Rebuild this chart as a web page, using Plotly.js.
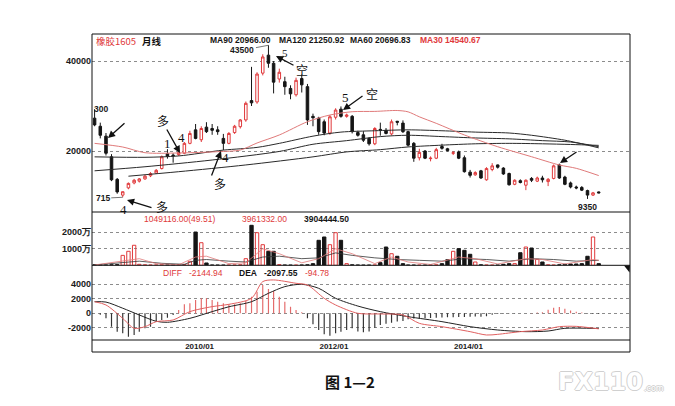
<!DOCTYPE html>
<html>
<head>
<meta charset="utf-8">
<script src="https://cdn.plot.ly/plotly-3.0.1.min.js"></script>
<style>html,body{margin:0;padding:0;background:#fff;}#chart{width:675px;height:406px;}</style>
</head>
<body>
<div id="chart"></div>
<script>
// ---------- data (monthly, rubber 1605) ----------
const months = ['2008-07','2008-08','2008-09','2008-10','2008-11','2008-12',
'2009-01','2009-02','2009-03','2009-04','2009-05','2009-06','2009-07','2009-08','2009-09','2009-10','2009-11','2009-12',
'2010-01','2010-02','2010-03','2010-04','2010-05','2010-06','2010-07','2010-08','2010-09','2010-10','2010-11','2010-12',
'2011-01','2011-02','2011-03','2011-04','2011-05','2011-06','2011-07','2011-08','2011-09','2011-10','2011-11','2011-12',
'2012-01','2012-02','2012-03','2012-04','2012-05','2012-06','2012-07','2012-08','2012-09','2012-10','2012-11','2012-12',
'2013-01','2013-02','2013-03','2013-04','2013-05','2013-06','2013-07','2013-08','2013-09','2013-10','2013-11','2013-12',
'2014-01','2014-02','2014-03','2014-04','2014-05','2014-06','2014-07','2014-08','2014-09','2014-10','2014-11','2014-12',
'2015-01','2015-02','2015-03','2015-04','2015-05','2015-06','2015-07','2015-08','2015-09','2015-10','2015-11','2015-12',
'2016-01'];

const open  = [27300,25500,23300,18700,13700,10200,11800,12900,13300,13800,
14500,15100,16100,19400,19100,19200,19500,21700,24700,22500,
25300,25000,24700,22800,21700,24100,25400,26900,31200,30900,
37300,41300,39500,36000,35400,33900,32500,36100,34300,27700,
27300,26500,24000,27500,29300,27700,27700,24100,23600,22800,
21600,24800,24600,23800,26600,26200,24300,21700,18500,20000,
18300,18400,21000,20500,19500,19800,18500,15300,14700,15600,
13600,15900,16900,16200,15000,12600,13400,12400,13900,13300,
14000,13200,13900,16900,14200,12900,12000,11900,11200,10200,
10900];
const high  = [29300,26300,24000,19300,14000,11000,13000,13800,14000,14700,
15300,16000,19000,20400,19500,20000,22000,24500,26000,25500,
26400,26000,25500,23800,24200,25800,27100,31000,38700,37500,
41500,43500,40000,38300,36500,34600,36300,37000,34900,28300,
27600,27000,28000,29500,29900,28300,28000,24500,24400,23100,
25300,26300,25100,27000,26700,26800,24500,22000,20500,20200,
18800,20700,21600,20700,20000,20100,19000,15800,15500,15800,
16400,17300,17000,16400,15200,13700,13700,13700,14200,14300,
14500,14000,17000,17200,14500,13200,12300,12200,11400,10900,
11000];
const low   = [25500,22800,19000,13300,10500,9715,11500,12600,13000,13600,
14200,14900,15900,18300,17400,18900,19300,21500,22600,22000,
24000,23600,23600,20200,21500,23800,25000,26500,30000,30500,
36800,38500,32800,35200,32500,31500,32100,33000,25800,25500,
23600,23500,23600,27000,27400,27400,23900,23200,22000,21200,
21300,23400,23700,23500,25700,24000,21000,17600,17900,18200,
17700,18200,20300,19900,19100,18200,15200,14100,14500,13800,
13400,15500,16100,14700,12300,12400,12800,11300,13100,13100,
13000,12200,13700,13800,12400,11700,11500,11100,9350,10000,
10600];
const close = [25800,23500,19500,13600,10900,10950,12800,13500,13800,14400,
15000,15700,18700,18800,18950,19700,21700,23900,22800,25000,
24300,24600,24300,21700,23900,25500,26900,30600,30700,37100,
40900,39500,35300,37500,34300,32700,35700,34700,26900,27400,
24300,24000,27600,29100,27700,28000,24300,23500,22400,21600,
25000,24600,23900,26500,26400,24300,21300,18400,19700,18400,
18400,20300,20600,20100,19600,18400,15400,14600,15200,14000,
16100,16700,16400,14900,12500,13500,13000,13500,13500,14000,
13600,13700,16700,14000,12600,12000,11800,11300,10200,10700,
10700];

// volume, unit: 万 (10 thousand lots)
const volume = [30,20,20,30,40,600,845,1210,60,30,
20,20,30,20,20,30,40,240,2010,1365,
140,20,15,15,20,20,30,400,2416,1970,
1245,845,845,40,20,15,15,20,30,100,
1510,1710,1245,1970,1510,100,30,20,15,15,
20,160,1105,700,545,100,20,15,15,15,
20,30,100,340,845,1005,905,665,200,30,
20,15,15,60,100,100,760,1105,1045,360,
200,30,20,30,60,80,80,100,545,1710,
100];

// MACD histogram bars
const macdHist = [0,-200,-690,-1840,-2530,-2760,-3220,-2990,-2530,-2070,
-1840,-1150,-920,-600,-230,460,1240,1380,1840,2070,
2070,1840,1600,1380,1240,1240,1380,1700,2300,2990,
3910,3360,3080,2300,1600,920,460,140,-690,-1520,
-2300,-2900,-3080,-2760,-2530,-2300,-2070,-2500,-2600,-2500,
-2000,-1600,-1430,-1300,-1140,-1050,-810,-710,-700,-670,
-650,-620,-570,-550,-530,-520,-500,-480,-450,-480,
-400,-190,-100,-60,-40,-20,0,20,40,100,
140,480,760,860,620,380,200,100,-50,-90,
-95];

// moving-average lines read at sample months
const ma30Months = ['2008-07','2008-12','2009-04','2009-10','2010-05','2010-09','2010-12','2011-04','2011-09','2012-01','2012-05','2012-09','2013-01','2013-03','2013-05','2013-08','2014-01','2014-07','2015-01','2015-06','2015-09','2016-01'];
const ma30 = [21700,20890,19620,19560,19850,20220,21780,23560,26510,28000,28730,28800,29000,28700,27600,26150,23560,20950,18730,16890,16150,14540];
const ma60Months = ['2008-07','2009-04','2009-10','2010-06','2010-12','2011-04','2011-10','2012-03','2012-09','2013-03','2013-09','2014-03','2014-09','2015-01','2015-07','2015-11','2016-01'];
const ma60 = [18700,18600,18900,20200,20800,21700,23300,24200,24500,24700,24500,24200,24000,23500,22400,21300,20697];
const ma90Months = ['2008-07','2009-04','2010-04','2011-04','2011-10','2012-04','2012-10','2013-03','2013-09','2014-03','2014-09','2015-03','2015-08','2016-01'];
const ma90 = [15600,16500,18000,19900,21500,22300,23200,23500,23200,22900,22700,22300,22000,20966];
const ma120Months = ['2009-01','2009-10','2010-10','2011-10','2012-04','2012-10','2013-03','2013-09','2014-03','2014-09','2015-03','2015-08','2016-01'];
const ma120 = [14400,15400,16900,18700,19800,20300,20900,21300,21600,21700,21600,21450,21251];

const volMaBlackMonths = ['2008-07','2008-12','2009-03','2009-07','2009-11','2010-01','2010-03','2010-07','2010-10','2011-01','2011-04','2011-08','2011-11','2012-02','2012-05','2012-09','2013-01','2013-05','2013-09','2014-01','2014-05','2014-09','2015-01','2015-05','2015-09','2016-01'];
const volMaBlack = [20,150,250,120,60,300,350,250,200,500,550,400,450,750,600,450,350,300,250,400,350,250,400,350,250,300];
const volMaRedMonths = ['2008-07','2008-12','2009-03','2009-06','2009-10','2010-01','2010-03','2010-07','2010-10','2011-01','2011-04','2011-08','2011-11','2012-02','2012-05','2012-09','2012-12','2013-03','2013-07','2013-12','2014-03','2014-07','2014-12','2015-03','2015-07','2015-12','2016-01'];
const volMaRed = [20,250,400,100,30,500,550,100,150,1000,700,150,400,1000,700,100,500,200,50,500,400,80,400,350,80,350,300];

const deaMonths = ['2008-07','2008-09','2008-12','2009-03','2009-06','2009-08','2009-12','2010-04','2010-07','2010-11','2011-02','2011-05','2011-08','2011-11','2012-02','2012-06','2012-10','2013-03','2013-09','2014-02','2014-07','2014-12','2015-04','2015-07','2016-01'];
const dea = [1600,1550,700,-230,-1100,-1240,-690,230,900,1600,2760,3680,4000,3450,2070,1000,230,-460,-1150,-1840,-2300,-2530,-2440,-2070,-2098];
const diffMonths = ['2008-07','2008-09','2008-12','2009-02','2009-04','2009-06','2009-09','2009-12','2010-04','2010-07','2010-11','2011-01','2011-03','2011-07','2011-09','2011-12','2012-02','2012-06','2012-10','2013-02','2013-05','2013-09','2014-02','2014-05','2014-07','2014-11','2015-03','2015-06','2015-09','2016-01'];
const diff = [1600,1150,-690,-2070,-1840,-1150,-920,230,920,1240,2070,4370,4600,4140,3900,2070,1150,0,-90,-230,-1380,-1840,-2530,-2990,-2900,-2530,-2300,-1840,-1800,-2145];

// tick labels
const xTickMonths = ['2010-01','2012-01','2014-01'];
const xTickText = ['2010/01','2012/01','2014/01'];
const priceTicks = [20000,40000];
const volTicks = [1000,2000];
const volTickText = ['1000万','2000万'];
const macdTicks = [-2000,0,2000,4000];

// header texts
const headerMA = [['MA90','20966.00'],['MA120','21250.92'],['MA60','20696.83'],['MA30','14540.67']];
const volTexts = ['1049116.00(49.51)','3961332.00','3904444.50'];
const macdTexts = ['DIFF','-2144.94','DEA','-2097.55','-94.78'];

// ---------- drawing ----------
const D = m => m + '-01';
const X = months.map(D);
const up = close.map((c,i)=> c >= open[i]);
const RED = '#e0393b';
const DARK = '#151515';

const traces = [
  {type:'candlestick', x:X, open:open, high:high, low:low, close:close, xaxis:'x', yaxis:'y',
   increasing:{line:{color:RED,width:1}, fillcolor:'#ffffff'},
   decreasing:{line:{color:DARK,width:1}, fillcolor:DARK},
   whiskerwidth:0, hoverinfo:'skip'},
  {type:'scatter', mode:'lines', x:ma120Months.map(D), y:ma120, yaxis:'y', line:{color:'#2a2a2a', width:1, shape:'spline', smoothing:0.8}, hoverinfo:'skip'},
  {type:'scatter', mode:'lines', x:ma90Months.map(D), y:ma90, yaxis:'y', line:{color:'#2a2a2a', width:1, shape:'spline', smoothing:0.8}, hoverinfo:'skip'},
  {type:'scatter', mode:'lines', x:ma60Months.map(D), y:ma60, yaxis:'y', line:{color:'#2a2a2a', width:1, shape:'spline', smoothing:0.8}, hoverinfo:'skip'},
  {type:'scatter', mode:'lines', x:ma30Months.map(D), y:ma30, yaxis:'y', line:{color:'#e07a7a', width:1, shape:'spline', smoothing:0.8}, hoverinfo:'skip'},
  {type:'bar', x:X, y:volume, xaxis:'x', yaxis:'y2',
   marker:{color:up.map(u=>u?'rgba(255,255,255,0)':DARK), line:{color:up.map(u=>u?RED:DARK), width:1}}, hoverinfo:'skip'},
  {type:'scatter', mode:'lines', x:volMaBlackMonths.map(D), y:volMaBlack, yaxis:'y2', line:{color:'#333', width:0.8}, hoverinfo:'skip'},
  {type:'scatter', mode:'lines', x:volMaRedMonths.map(D), y:volMaRed, yaxis:'y2', line:{color:'#e07a7a', width:0.8}, hoverinfo:'skip'},
  {type:'bar', x:X, y:macdHist, xaxis:'x', yaxis:'y3', width:5.5e8,
   marker:{color:macdHist.map(v=> v>=0 ? '#e46a6a' : '#333'), line:{width:0}}, hoverinfo:'skip'},
  {type:'scatter', mode:'lines', x:deaMonths.map(D), y:dea, yaxis:'y3', line:{color:'#222', width:1, shape:'spline', smoothing:0.8}, hoverinfo:'skip'},
  {type:'scatter', mode:'lines', x:diffMonths.map(D), y:diff, yaxis:'y3', line:{color:'#e06060', width:1, shape:'spline', smoothing:0.8}, hoverinfo:'skip'}
];

// pixel -> paper helpers for labels and frame
const L=92, R=630, T=34, B=340;
const px = x => (x-L)/(R-L);
const py = y => (B-y)/(B-T);

const tickFont = {family:'Liberation Sans, Arial, sans-serif', size:9, weight:'bold', color:'#1a1a1a'};
const axisCommon = {showgrid:true, griddash:'dot', gridcolor:'#8c8c8c', gridwidth:1, zeroline:false, showline:false, ticks:'', tickfont:tickFont, fixedrange:true};

const ann = [];
function txt(text, x, y, opt){
  ann.push(Object.assign({xref:'paper', yref:'paper', x:px(x), y:py(y), text:text, showarrow:false,
    xanchor:'left', yanchor:'middle', font:{family:'Liberation Sans, Arial, sans-serif', size:9, weight:'bold', color:DARK}}, opt||{}));
}
function arrow(hx, hy, tx, ty){
  ann.push({xref:'paper', yref:'paper', x:px(hx), y:py(hy), ax:tx-hx, ay:ty-hy, text:'', showarrow:true,
    arrowhead:2, arrowsize:1.1, arrowwidth:1.3, arrowcolor:'#111', standoff:0});
}
const serif = {family:'Liberation Serif, serif', size:13, color:'#111'};
const cjk = {family:'Noto Sans CJK SC, sans-serif', size:12, color:'#111'};

// header
txt('橡胶1605', 94, 41, {font:{family:'Noto Sans CJK SC, sans-serif', size:9.5, color:RED}});
txt('月线', 140, 41, {font:{family:'Noto Sans CJK SC, sans-serif', size:9.5, color:'#111', weight:'bold'}});
const hx = [208, 277, 348, 418];
headerMA.forEach((h,i)=> txt(h[0]+' '+h[1], hx[i], 40, {font:Object.assign({}, tickFont, {size:8.5, color: i===3 ? RED : DARK})}));

// price labels
ann.push({x:X[31], y:high[31], xref:'x', yref:'y', text:'43500', showarrow:true, ax:-26, ay:5, arrowhead:0, arrowwidth:0.8, arrowcolor:'#555', standoff:0,
  font:Object.assign({}, tickFont, {size:8.5})});
ann.push({x:X[5], y:low[5], xref:'x', yref:'y', text:'715', showarrow:true, ax:-20, ay:1, arrowhead:0, arrowwidth:0.8, arrowcolor:'#555', standoff:0,
  font:Object.assign({}, tickFont, {size:8.5})});
ann.push({x:X[0], y:high[0], xref:'x', yref:'y', text:'300', showarrow:false, xanchor:'left', xshift:-3, yanchor:'middle',
  font:Object.assign({}, tickFont, {size:8.5})});
ann.push({x:X[88], y:low[88], xref:'x', yref:'y', text:'9350', showarrow:false, yanchor:'top', yshift:-1,
  font:Object.assign({}, tickFont, {size:8.5})});

// hand-drawn marks
txt('5', 285, 53, {xanchor:'center', font:Object.assign({}, serif, {size:11})});
arrow(276, 56, 295, 66);
txt('空', 302, 69, {xanchor:'center', font:cjk});
txt('5', 345, 97, {xanchor:'center', font:serif});
arrow(343, 110, 364, 95);
txt('空', 372, 93, {xanchor:'center', font:cjk});
arrow(108, 138, 126, 122);
txt('多', 163, 120, {xanchor:'center', font:cjk});
arrow(180, 153, 166, 128);
txt('4', 181, 137, {xanchor:'center', font:serif});
txt('1', 167, 143, {xanchor:'center', font:serif});
txt('4', 225, 157, {xanchor:'center', font:serif});
arrow(221, 151, 211, 177);
txt('多', 220, 183, {xanchor:'center', font:cjk});
txt('4', 123, 209, {xanchor:'center', font:serif});
arrow(127, 200, 153, 208);
txt('多', 162, 206, {xanchor:'center', font:cjk});
arrow(560, 163, 578, 151);

// volume header
txt(volTexts[0], 142, 219, {font:Object.assign({}, tickFont, {size:8.5, color:RED, weight:'normal'})});
txt(volTexts[1], 240, 219, {font:Object.assign({}, tickFont, {size:8.5, color:RED, weight:'normal'})});
txt(volTexts[2], 302, 219, {font:Object.assign({}, tickFont, {size:8.5, color:DARK})});
// MACD header
const mx = [161, 187, 237, 262, 303];
macdTexts.forEach((t,i)=> txt(t, mx[i], 273, {font:Object.assign({}, tickFont, {size:8.5, weight: (i===2||i===3)?'bold':'normal', color:(i===2||i===3)?DARK:RED})}));

// caption + watermark
txt('图 1—2', 350, 381, {xanchor:'center', font:{family:'Noto Sans CJK SC, sans-serif', size:15, weight:'bold', color:'#111'}});
const wmShadow = '1px 0 0 #d0d0d0, -1px 0 0 #d0d0d0, 0 1px 0 #d0d0d0, 0 -1px 0 #d0d0d0';
txt('FX110', 556, 382, {font:{family:'DejaVu Sans, sans-serif', size:24, weight:'bold', color:'#ffffff', shadow:wmShadow}});
txt('.com', 642, 389, {font:{family:'DejaVu Sans, sans-serif', size:8, color:'#ffffff', shadow:wmShadow}});

const shapes = [
  {type:'rect', xref:'paper', yref:'paper', x0:0, x1:1, y0:py(352), y1:1, line:{color:'#111', width:1}},
  {type:'line', xref:'paper', yref:'paper', x0:0, x1:1, y0:py(212), y1:py(212), line:{color:'#111', width:1}},
  {type:'line', xref:'paper', yref:'paper', x0:0, x1:1, y0:py(265.3), y1:py(265.3), line:{color:'#111', width:1}},
  {type:'line', xref:'paper', yref:'paper', x0:0, x1:1, y0:0, y1:0, line:{color:'#111', width:1}},
  {type:'path', xref:'paper', yref:'paper', path:'M '+px(624)+','+py(265.5)+' L '+px(630)+','+py(265.5)+' L '+px(629.5)+','+py(272.5)+' Z', fillcolor:'#111', line:{width:0}}
];

const layout = {
  width:675, height:406, margin:{l:L, r:675-R, t:T, b:406-B, pad:0},
  paper_bgcolor:'#ffffff', plot_bgcolor:'#ffffff', showlegend:false, bargap:0.35, hovermode:false,
  xaxis:{type:'date', range:['2008-06-17','2016-06-19'], anchor:'y3', tickvals:xTickMonths.map(D), ticktext:xTickText,
    showgrid:false, zeroline:false, showline:false, ticks:'', ticklabelshift:4,
    tickfont:Object.assign({}, tickFont, {size:8}), rangeslider:{visible:false}, fixedrange:true},
  yaxis:Object.assign({}, axisCommon, {domain:[py(212),1], range:[6445,46000], tickvals:priceTicks, ticktext:priceTicks.map(String)}),
  yaxis2:Object.assign({}, axisCommon, {domain:[py(265.3),py(212)], range:[0,3220], tickvals:volTicks, ticktext:volTickText}),
  yaxis3:Object.assign({}, axisCommon, {domain:[0,py(265.3)], range:[-3680,6620], tickvals:macdTicks, ticktext:macdTicks.map(String)}),
  annotations:ann, shapes:shapes
};

Plotly.newPlot('chart', traces, layout, {staticPlot:true, displayModeBar:false});
</script>
</body>
</html>
